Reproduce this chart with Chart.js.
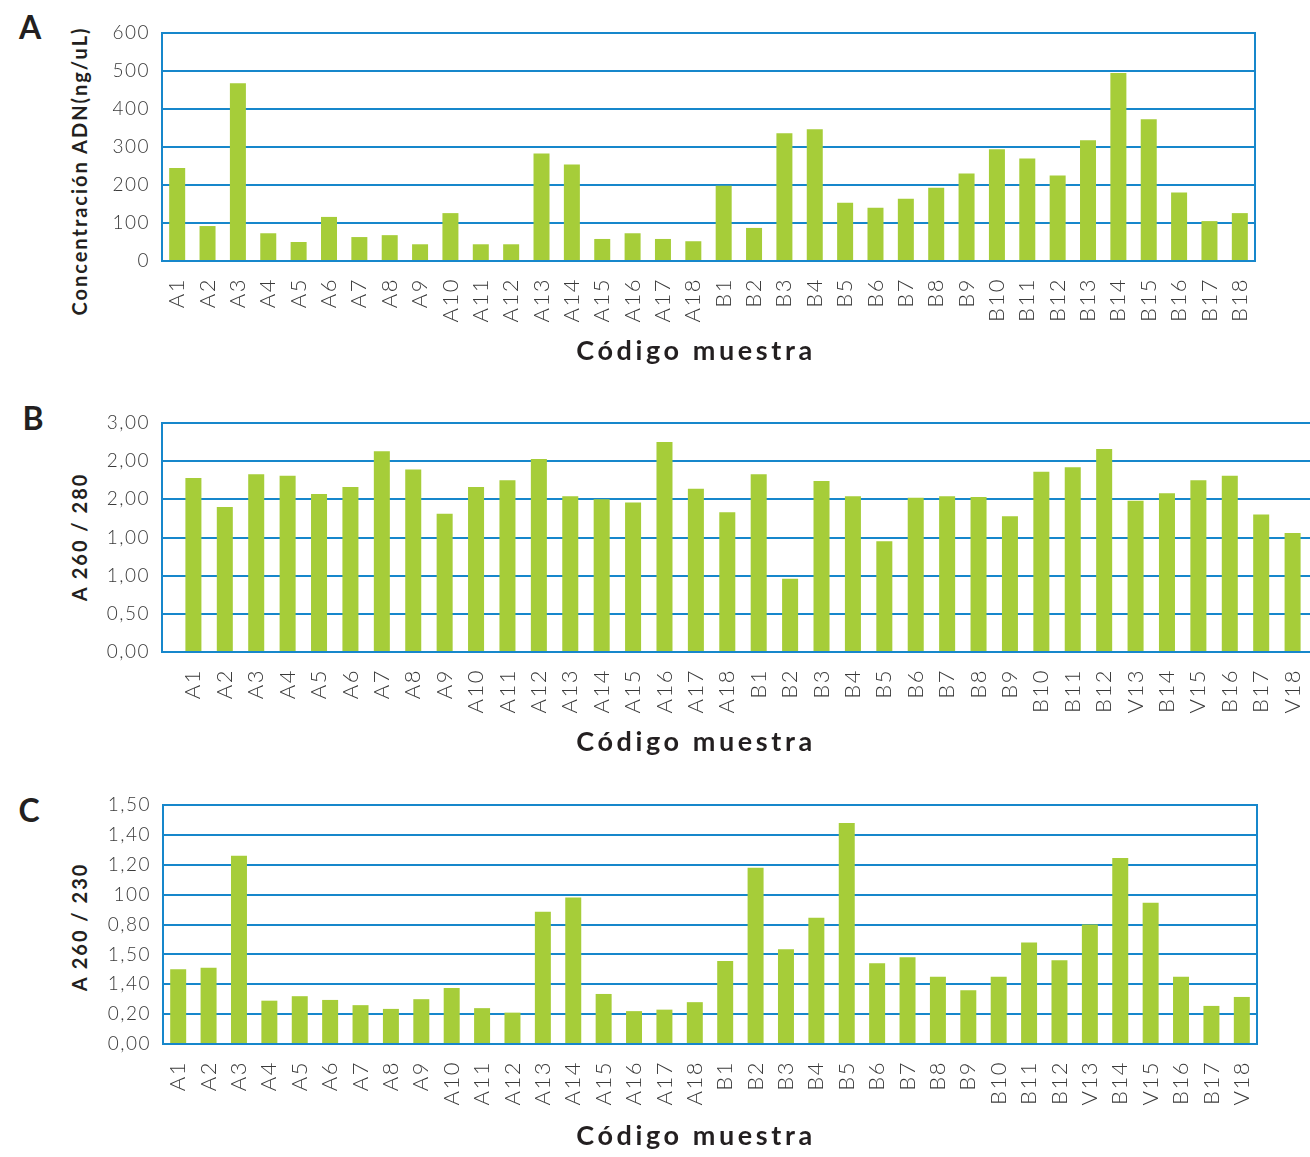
<!DOCTYPE html>
<html lang="es">
<head>
<meta charset="utf-8">
<title>Concentración y pureza de ADN por muestra</title>
<script src="https://cdn.jsdelivr.net/npm/chart.js@4.4.1/dist/chart.umd.min.js"></script>
<style>
  html, body { margin: 0; padding: 0; width: 1310px; height: 1157px; overflow: hidden; background: #fff; position: relative; }
  .box { position: absolute; left: 0; }
  .box canvas { display: block; }
  .letter { position: absolute; transform: translate(-50%, -50%); font: 700 32px 'Lato', sans-serif; line-height: 1; color: #231f20; }
  .xtitle { position: absolute; left: 696px; transform: translate(-50%, -50%); font: 700 27px 'Lato', sans-serif; line-height: 1; letter-spacing: 3.6px; color: #231f20; white-space: nowrap; }
  .ytitle { position: absolute; transform: translate(-50%, -50%) rotate(-90deg); font: 700 20px 'Lato', sans-serif; line-height: 1; letter-spacing: 2px; color: #231f20; white-space: nowrap; }
</style>
</head>
<body>
<div class="letter" style="left:30px; top:27px;">A</div>
<div class="ytitle" style="left:79px; top:171px;">Concentración ADN(ng/uL)</div>
<div class="box" style="top:0px; width:1310px; height:340px;"><canvas id="chartA"></canvas></div>
<div class="xtitle" style="top:349px;">Código muestra</div>

<div class="letter" style="left:33px; top:418px;">B</div>
<div class="ytitle" style="left:79px; top:537px;">A 260 / 280</div>
<div class="box" style="top:380px; width:1330px; height:350px;"><canvas id="chartB"></canvas></div>
<div class="xtitle" style="top:740px;">Código muestra</div>

<div class="letter" style="left:29px; top:810px;">C</div>
<div class="ytitle" style="left:79px; top:927px;">A 260 / 230</div>
<div class="box" style="top:770px; width:1310px; height:387px;"><canvas id="chartC"></canvas></div>
<div class="xtitle" style="top:1134px;">Código muestra</div>

<script>
// A: concentración de ADN (ng/uL) por muestra
const catsA = ['A1','A2','A3','A4','A5','A6','A7','A8','A9','A10','A11','A12','A13','A14','A15','A16','A17','A18',
               'B1','B2','B3','B4','B5','B6','B7','B8','B9','B10','B11','B12','B13','B14','B15','B16','B17','B18'];
const valsA = [245, 92, 468, 73, 50, 116, 63, 68, 44, 126, 44, 44, 283, 254, 58, 73, 58, 52,
               198, 87, 336, 347, 153, 140, 164, 193, 230, 294, 270, 225, 318, 495, 373, 180, 105, 126];

// B: relación A260/280
const catsB = ['A1','A2','A3','A4','A5','A6','A7','A8','A9','A10','A11','A12','A13','A14','A15','A16','A17','A18',
               'B1','B2','B3','B4','B5','B6','B7','B8','B9','B10','B11','B12','V13','B14','V15','B16','B17','V18'];
const valsB = [2.28, 1.90, 2.33, 2.31, 2.07, 2.16, 2.63, 2.39, 1.81, 2.16, 2.25, 2.53, 2.04, 2.00, 1.96, 2.75, 2.14, 1.83,
               2.33, 0.96, 2.24, 2.04, 1.45, 2.02, 2.04, 2.03, 1.78, 2.36, 2.42, 2.66, 1.98, 2.08, 2.25, 2.31, 1.80, 1.56];
const yTicksB = ['0,00', '0,50', '1,00', '1,00', '2,00', '2,00', '3,00'];

// C: relación A260/230
const catsC = ['A1','A2','A3','A4','A5','A6','A7','A8','A9','A10','A11','A12','A13','A14','A15','A16','A17','A18',
               'B1','B2','B3','B4','B5','B6','B7','B8','B9','B10','B11','B12','V13','B14','V15','B16','B17','V18'];
const valsC = [0.50, 0.51, 1.26, 0.29, 0.32, 0.295, 0.26, 0.235, 0.30, 0.375, 0.24, 0.21, 0.885, 0.98, 0.335, 0.22, 0.23, 0.28,
               0.555, 1.18, 0.635, 0.845, 1.48, 0.54, 0.58, 0.45, 0.36, 0.45, 0.68, 0.56, 0.80, 1.245, 0.945, 0.45, 0.255, 0.315];
const yTicksC = ['0,00', '0,20', '1,40', '1,50', '0,80', '100', '1,20', '1,40', '1,50'];

const GRID = '#1787cb';
const BAR = '#a6cd39';
const TICK = '#3a3a3a';

// Tracking for the tick text and an optional closing line on the right of the plot
const frame = {
  id: 'frame',
  beforeDraw(chart) { chart.ctx.letterSpacing = '1.5px'; },
  afterDatasetsDraw(chart, args, opts) {
    if (!opts.right) return;
    const { ctx, chartArea: { top, bottom, right } } = chart;
    ctx.save();
    ctx.strokeStyle = GRID;
    ctx.lineWidth = 2;
    ctx.beginPath();
    ctx.moveTo(right, top - 1);
    ctx.lineTo(right, bottom + 1);
    ctx.stroke();
    ctx.restore();
  }
};

function makeChart(id, labels, data, cfg) {
  return new Chart(document.getElementById(id), {
    type: 'bar',
    data: {
      labels,
      datasets: [{ data, backgroundColor: BAR, borderWidth: 0, barPercentage: cfg.bar, categoryPercentage: 1 }]
    },
    options: {
      responsive: true,
      maintainAspectRatio: false,
      animation: false,
      devicePixelRatio: 1,
      layout: { padding: cfg.pad },
      plugins: { legend: { display: false }, tooltip: { enabled: false }, frame: { right: cfg.right } },
      scales: {
        x: {
          offset: cfg.offset,
          grid: { display: false, drawTicks: false },
          border: { display: true, color: GRID, width: 2 },
          ticks: { autoSkip: false, minRotation: 90, maxRotation: 90, padding: 17, color: TICK,
                   font: { family: 'Lato', size: 22, weight: '300' } },
          afterFit: s => { s.height = cfg.xh; s.paddingLeft = 0; s.paddingRight = 0; }
        },
        y: {
          min: 0, max: cfg.max,
          grid: { color: GRID, lineWidth: 2, drawTicks: false },
          border: { display: true, color: GRID, width: 2 },
          ticks: { stepSize: cfg.step, padding: 12, color: TICK,
                   font: { family: 'Lato', size: 19, weight: '300' },
                   callback: cfg.fmt },
          afterFit: s => { s.width = cfg.yw; s.paddingTop = 0; s.paddingBottom = 0; }
        }
      }
    },
    plugins: [frame]
  });
}

makeChart('chartA', catsA, valsA, {
  pad: { top: 33, right: 55, left: 0, bottom: 0 }, xh: 79, yw: 162,
  max: 600, step: 100, bar: 0.527, offset: true, right: true,
  fmt: v => String(v)
});

// Panel B leaves one empty slot on each side of the sample list
makeChart('chartB', ['', ...catsB, ''], [null, ...valsB, null], {
  pad: { top: 43, right: 6, left: 0, bottom: 0 }, xh: 78, yw: 162,
  max: 3, step: 0.5, bar: 0.51, offset: false, right: false,
  fmt: (v, i) => yTicksB[i]
});

makeChart('chartC', catsC, valsC, {
  pad: { top: 35, right: 53, left: 0, bottom: 0 }, xh: 113, yw: 163,
  max: 1.6, step: 0.2, bar: 0.526, offset: true, right: true,
  fmt: (v, i) => yTicksC[i]
});
</script>
</body>
</html>
